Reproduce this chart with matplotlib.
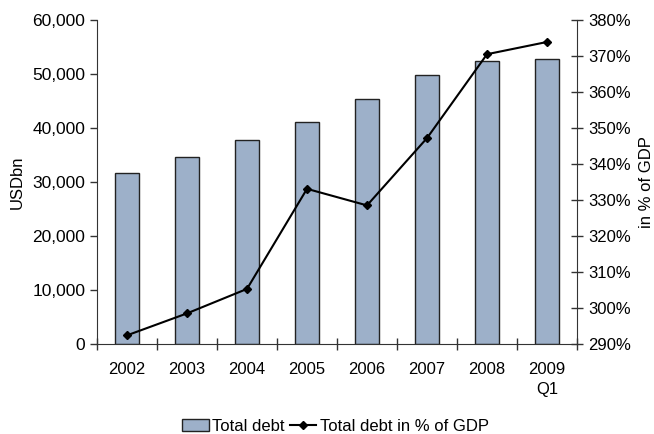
import numpy as np
import matplotlib.pyplot as plt
from matplotlib.ticker import FuncFormatter, FixedLocator

plt.rcParams['font.family'] = ['Liberation Sans', 'DejaVu Sans']

## Data
years = ["2002", "2003", "2004", "2005", "2006", "2007", "2008", "2009\nQ1"]
total_debt = [31700, 34600, 37700, 41200, 45300, 49800, 52400, 52800]  # USDbn
debt_pct_gdp = [292.4, 298.5, 305.3, 333.1, 328.5, 347.2, 370.5, 373.9]  # in % of GDP

fig = plt.figure(figsize=(6.54, 4.34), dpi=100)
ax = fig.add_axes([0.1483, 0.2074, 0.734, 0.7465])
ax2 = ax.twinx()

x = np.arange(len(years))
bars = ax.bar(x, total_debt, width=0.4, color="#9DB0C9", edgecolor="#222222",
              linewidth=1.0, label="Total debt", zorder=2)
line, = ax2.plot(x, debt_pct_gdp, color="black", marker="D", markersize=4,
                 linewidth=1.5, label="Total debt in % of GDP", zorder=3)

ax.set_xlim(-0.5, len(years) - 0.5)
ax.set_ylim(0, 60000)
ax.set_yticks(np.arange(0, 60001, 10000))
ax.yaxis.set_major_formatter(FuncFormatter(lambda v, p: f"{int(v):,}"))
ax2.set_ylim(290, 380)
ax2.set_yticks(np.arange(290, 381, 10))
ax2.yaxis.set_major_formatter(FuncFormatter(lambda v, p: f"{int(v)}%"))

# category labels at centers, tick marks at boundaries
ax.xaxis.set_major_locator(FixedLocator(np.arange(-0.5, len(years), 1.0)))
ax.xaxis.set_major_formatter(FuncFormatter(lambda v, p: ""))
ax.xaxis.set_minor_locator(FixedLocator(x))
ax.set_xticklabels(years, minor=True, linespacing=1.45)
ax.tick_params(axis="x", which="major", direction="inout", length=8, width=1, color="#333333")
ax.tick_params(axis="x", which="minor", length=0, labelsize=12, pad=13)

ax.tick_params(axis="y", direction="out", length=5, width=1, color="#333333", labelsize=12.5)
ax2.tick_params(axis="y", direction="inout", length=9, width=1, color="#333333", labelsize=12)

for a in (ax, ax2):
    a.spines["top"].set_visible(False)
    for s in ("left", "right", "bottom"):
        a.spines[s].set_color("#333333")
ax.spines["right"].set_visible(False)
ax2.spines["left"].set_visible(False)
ax2.spines["bottom"].set_visible(False)

ax.set_ylabel("USDbn", fontsize=12, labelpad=5)
ax2.set_ylabel("in % of GDP", fontsize=12, labelpad=6)

fig.legend([bars, line], ["Total debt", "Total debt in % of GDP"], loc="center",
           bbox_to_anchor=(0.513, 0.018), ncol=2, frameon=False, fontsize=12,
           handlelength=1.6, handletextpad=0.2, columnspacing=0.3)

fig.savefig("out.png", dpi=100)
